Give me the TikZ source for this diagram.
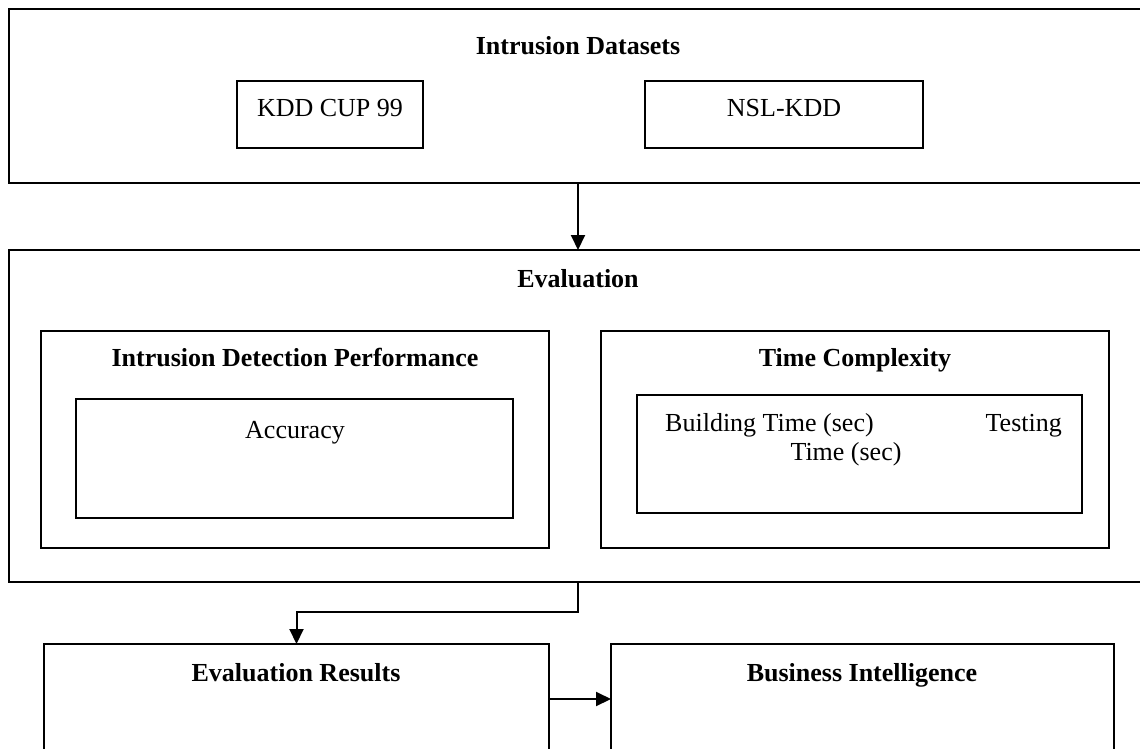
\documentclass[tikz,border=0pt]{standalone}
\usepackage{fontspec}
\setmainfont{Liberation Serif}
\usetikzlibrary{arrows.meta}

\tikzset{
  frame/.style={draw=black, line width=1.8pt, rectangle, anchor=north west,
    inner sep=0pt, outer sep=0pt},
  title/.style={font=\fontsize{26}{30}\selectfont\bfseries, inner sep=0pt, anchor=base},
  plain/.style={font=\fontsize{26}{30}\selectfont, inner sep=0pt, anchor=base},
  arr/.style={draw=black, line width=2pt, -{Triangle[length=15pt,width=14pt]}}
}

\begin{document}
\begin{tikzpicture}[x=1pt, y=-1pt]
  \path[use as bounding box, clip] (0,0) rectangle (1140,749);
  \fill[white] (0,0) rectangle (1140,749);

  % datasets panel
  \node[frame, minimum width=1151pt, minimum height=174pt] (ds) at (9,9) {};
  \node[title] (dstitle) at (578,55) {Intrusion Datasets};
  \node[frame, minimum width=186pt, minimum height=67pt] (kdd) at (237,81) {};
  \node[plain] (kddtext) at (330,117) {KDD CUP 99};
  \node[frame, minimum width=278pt, minimum height=67pt] (nsl) at (645,81) {};
  \node[plain] (nsltext) at (784,117) {NSL-KDD};

  % evaluation panel
  \node[frame, minimum width=1151pt, minimum height=332pt] (ev) at (9,250) {};
  \node[title] (evtitle) at (578,287) {Evaluation};

  \node[frame, minimum width=508pt, minimum height=217pt] (idp) at (41,331) {};
  \node[title] (idptitle) at (295,366) {Intrusion Detection Performance};
  \node[frame, minimum width=437pt, minimum height=119pt] (acc) at (76,399) {};
  \node[plain] (acctext) at (295,438) {Accuracy};

  \node[frame, minimum width=508pt, minimum height=217pt] (tc) at (601,331) {};
  \node[title] (tctitle) at (855,366) {Time Complexity};
  \node[frame, minimum width=445pt, minimum height=118pt] (tcin) at (637,395) {};
  \node[plain, anchor=base west] (build) at (665,431) {Building Time (sec)};
  \node[plain, anchor=base east] (test) at (1062,431) {Testing};
  \node[plain] (testtime) at (846,460) {Time (sec)};

  % results
  \node[frame, minimum width=505pt, minimum height=110pt] (er) at (44,644) {};
  \node[title] (ertitle) at (296,681) {Evaluation Results};
  \node[frame, minimum width=503pt, minimum height=110pt] (bi) at (611,644) {};
  \node[title] (bititle) at (862,681) {Business Intelligence};

  % connectors
  \draw[arr] (evtitle |- ds.south) -- (evtitle |- ev.north);
  \draw[arr] (evtitle |- ev.south) -- ++(0,30) -| (er.north);
  \draw[arr] (er.east) -- (bi.west);
\end{tikzpicture}
\end{document}
